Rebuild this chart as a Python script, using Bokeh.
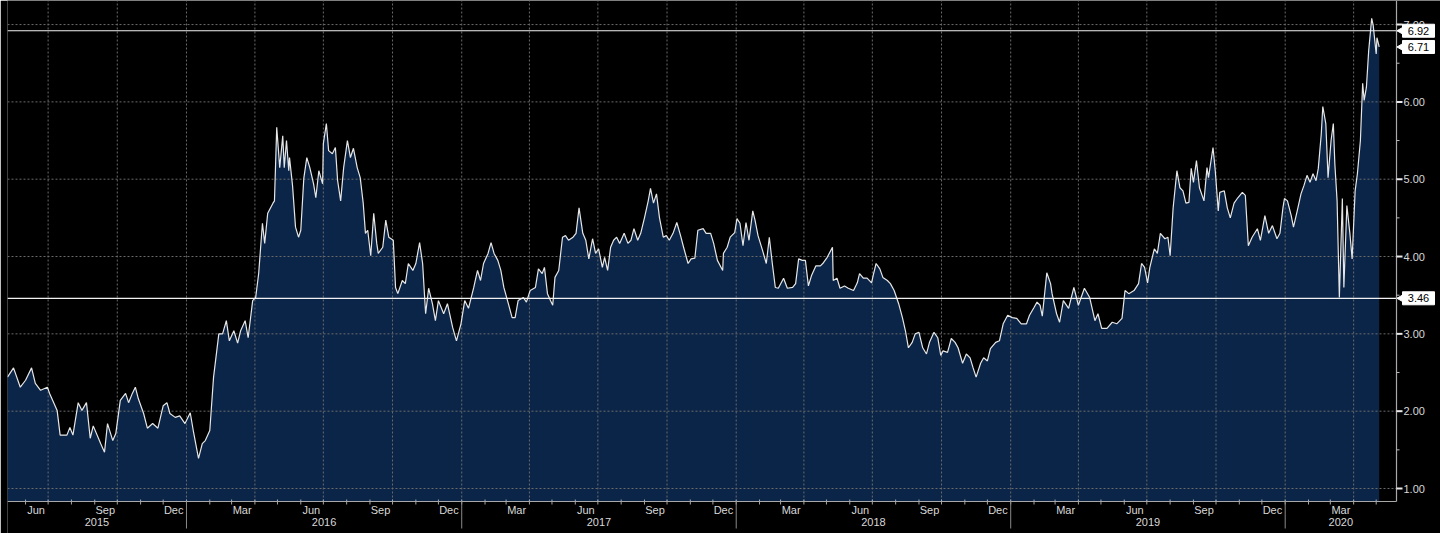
import math
import pandas as pd
from bokeh.plotting import figure
from bokeh.models import ColumnDataSource, Range1d
from bokeh.embed import file_html
from bokeh.resources import INLINE
from bokeh.core.properties import value

# ---------------- data ----------------
dates_2015 = ["2015-05-08","2015-05-16","2015-05-25","2015-06-01","2015-06-09","2015-06-14","2015-06-21","2015-06-30",
              "2015-07-03","2015-07-13","2015-07-17","2015-07-26","2015-07-30","2015-08-03","2015-08-10","2015-08-15",
              "2015-08-21","2015-08-26","2015-08-30","2015-09-09","2015-09-14","2015-09-18","2015-09-25","2015-09-29",
              "2015-10-05","2015-10-12","2015-10-16","2015-10-21","2015-10-25","2015-10-29","2015-11-05","2015-11-10",
              "2015-11-17","2015-11-24","2015-12-01","2015-12-06","2015-12-10","2015-12-17","2015-12-23","2015-12-30"]
values_2015 = [2.44,2.56,2.31,2.40,2.56,2.36,2.27,2.31,
               2.23,2.01,1.69,1.69,1.79,1.69,2.11,2.01,
               2.11,1.65,1.81,1.58,1.47,1.84,1.62,1.71,
               2.14,2.23,2.11,2.23,2.31,2.16,1.97,1.78,
               1.84,1.78,2.07,2.11,1.97,1.92,1.94,1.84]

dates_2016 = ["2016-01-06","2016-01-10","2016-01-17","2016-01-22","2016-01-26","2016-02-01","2016-02-06","2016-02-13",
              "2016-02-18","2016-02-23","2016-02-27","2016-03-04","2016-03-09","2016-03-13","2016-03-19","2016-03-23",
              "2016-03-29","2016-04-02","2016-04-06","2016-04-11","2016-04-14","2016-04-18","2016-04-25","2016-04-27",
              "2016-04-30","2016-05-04","2016-05-08","2016-05-10","2016-05-13","2016-05-16","2016-05-17","2016-05-21",
              "2016-05-25","2016-05-29","2016-06-01","2016-06-05","2016-06-09","2016-06-13","2016-06-18","2016-06-21",
              "2016-06-25","2016-06-30","2016-07-01","2016-07-05","2016-07-08","2016-07-13","2016-07-17","2016-07-20",
              "2016-07-24","2016-07-28","2016-08-02","2016-08-06","2016-08-10","2016-08-15","2016-08-19","2016-08-23",
              "2016-08-26","2016-08-29","2016-09-02","2016-09-06","2016-09-10","2016-09-12","2016-09-18","2016-09-22",
              "2016-09-26","2016-10-02","2016-10-05","2016-10-08","2016-10-14","2016-10-18","2016-10-22","2016-10-28",
              "2016-11-01","2016-11-06","2016-11-10","2016-11-14","2016-11-18","2016-11-23","2016-11-27","2016-12-01",
              "2016-12-08","2016-12-13","2016-12-20","2016-12-25","2016-12-31"]
values_2016 = [1.98,1.75,1.39,1.58,1.62,1.75,2.44,3.00,
               3.00,3.17,2.91,3.04,2.88,3.04,3.17,2.95,
               3.43,3.47,3.78,4.43,4.17,4.56,4.69,4.72,
               5.67,5.15,5.56,5.15,5.50,5.11,5.28,4.92,
               4.38,4.25,4.34,5.01,5.28,5.15,4.94,4.76,
               5.11,4.94,5.46,5.72,5.37,5.33,5.41,4.98,
               4.72,5.15,5.50,5.28,5.40,5.15,5.02,4.69,
               4.30,4.34,4.01,4.56,4.17,4.04,4.12,4.47,
               4.25,4.21,3.60,3.52,3.69,3.65,3.91,3.82,
               3.91,4.18,3.91,3.26,3.59,3.39,3.17,3.43,
               3.26,3.39,3.08,2.91,3.13]

dates_2017 = ["2017-01-05","2017-01-10","2017-01-17","2017-01-22","2017-01-26","2017-01-30","2017-02-05","2017-02-09",
              "2017-02-13","2017-02-18","2017-02-22","2017-02-26","2017-03-04","2017-03-09","2017-03-13","2017-03-17",
              "2017-03-24","2017-03-28","2017-04-02","2017-04-09","2017-04-13","2017-04-18","2017-04-21","2017-04-25",
              "2017-04-29","2017-05-02","2017-05-05","2017-05-10","2017-05-15","2017-05-19","2017-05-23","2017-05-29",
              "2017-06-02","2017-06-06","2017-06-11","2017-06-15","2017-06-19","2017-06-24","2017-06-28","2017-07-02",
              "2017-07-07","2017-07-10","2017-07-14","2017-07-18","2017-07-22","2017-07-26","2017-07-30","2017-08-05",
              "2017-08-10","2017-08-14","2017-08-18","2017-08-23","2017-08-27","2017-09-01","2017-09-06","2017-09-09",
              "2017-09-13","2017-09-17","2017-09-21","2017-09-26","2017-09-30","2017-10-04","2017-10-09","2017-10-14",
              "2017-10-19","2017-10-23","2017-10-29","2017-11-02","2017-11-07","2017-11-11","2017-11-18","2017-11-22",
              "2017-11-28","2017-12-02","2017-12-07","2017-12-14","2017-12-15","2017-12-20","2017-12-24","2017-12-30"]
values_2017 = [3.43,3.33,3.60,3.82,3.69,3.91,4.04,4.18,
               4.04,3.95,3.82,3.60,3.39,3.21,3.21,3.43,
               3.47,3.41,3.56,3.60,3.84,3.78,3.86,3.52,
               3.43,3.37,3.73,3.82,4.25,4.27,4.21,4.25,
               4.30,4.63,4.30,4.21,3.97,4.23,4.04,4.10,
               3.86,3.99,3.82,4.12,4.21,4.25,4.17,4.30,
               4.17,4.21,4.36,4.21,4.30,4.50,4.72,4.88,
               4.69,4.81,4.50,4.25,4.27,4.21,4.30,4.44,
               4.27,4.12,3.91,3.97,3.98,4.34,4.36,4.30,
               4.30,4.17,3.95,3.82,4.04,4.12,4.25,4.31]

dates_2018 = ["2018-01-02","2018-01-06","2018-01-10","2018-01-14","2018-01-18","2018-01-23","2018-01-26","2018-01-30",
              "2018-02-05","2018-02-10","2018-02-14","2018-02-18","2018-02-22","2018-02-26","2018-03-05","2018-03-10",
              "2018-03-17","2018-03-21","2018-03-25","2018-03-30","2018-04-03","2018-04-07","2018-04-11","2018-04-17",
              "2018-04-23","2018-04-27","2018-05-02","2018-05-09","2018-05-10","2018-05-15","2018-05-19","2018-05-25",
              "2018-05-30","2018-06-06","2018-06-11","2018-06-14","2018-06-19","2018-06-24","2018-06-30","2018-07-02",
              "2018-07-06","2018-07-11","2018-07-15","2018-07-21","2018-07-25","2018-07-30","2018-08-05","2018-08-10",
              "2018-08-14","2018-08-18","2018-08-23","2018-08-27","2018-09-01","2018-09-06","2018-09-11","2018-09-15",
              "2018-09-21","2018-09-26","2018-09-30","2018-10-03","2018-10-09","2018-10-14","2018-10-19","2018-10-23",
              "2018-10-29","2018-11-03","2018-11-08","2018-11-12","2018-11-16","2018-11-22","2018-11-26","2018-12-01",
              "2018-12-05","2018-12-12","2018-12-17","2018-12-22","2018-12-28"]
values_2018 = [4.49,4.43,4.14,4.44,4.21,4.59,4.47,4.27,
               4.08,3.91,4.25,3.91,3.60,3.59,3.72,3.59,
               3.60,3.65,3.97,3.95,3.95,3.62,3.75,3.88,
               3.88,3.92,3.99,4.12,3.69,3.72,3.59,3.62,
               3.59,3.56,3.66,3.78,3.72,3.72,3.66,3.75,
               3.91,3.84,3.73,3.69,3.65,3.56,3.39,3.21,
               3.04,2.82,2.89,3.00,3.02,2.82,2.74,2.89,
               3.02,2.95,2.72,2.78,2.76,2.94,2.89,2.82,
               2.62,2.74,2.69,2.56,2.44,2.62,2.69,2.65,
               2.81,2.89,2.91,3.13,3.24]

dates_2019 = ["2019-01-03","2019-01-09","2019-01-15","2019-01-22","2019-01-26","2019-02-01","2019-02-05","2019-02-09",
              "2019-02-12","2019-02-18","2019-02-23","2019-02-25","2019-03-03","2019-03-07","2019-03-12","2019-03-19",
              "2019-03-26","2019-04-01","2019-04-09","2019-04-16","2019-04-23","2019-04-27","2019-05-02","2019-05-09",
              "2019-05-16","2019-05-22","2019-05-29","2019-06-02","2019-06-07","2019-06-14","2019-06-20","2019-06-24",
              "2019-06-28","2019-07-02","2019-07-05","2019-07-11","2019-07-15","2019-07-19","2019-07-25","2019-07-29",
              "2019-08-01","2019-08-05","2019-08-10","2019-08-14","2019-08-18","2019-08-22","2019-08-26","2019-08-29",
              "2019-09-01","2019-09-05","2019-09-09","2019-09-15","2019-09-19","2019-09-21","2019-09-27","2019-09-30",
              "2019-10-04","2019-10-06","2019-10-12","2019-10-16","2019-10-20","2019-10-25","2019-10-30","2019-11-05",
              "2019-11-09","2019-11-13","2019-11-18","2019-11-25","2019-11-29","2019-12-05","2019-12-10","2019-12-15",
              "2019-12-21","2019-12-25","2019-12-29","2019-12-31"]
values_2019 = [3.21,3.20,3.13,3.13,3.24,3.34,3.41,3.37,
               3.23,3.79,3.65,3.52,3.26,3.15,3.43,3.33,
               3.60,3.37,3.59,3.47,3.17,3.26,3.07,3.07,
               3.15,3.13,3.20,3.56,3.52,3.56,3.65,3.91,
               3.86,3.66,3.86,4.10,4.04,4.30,4.23,4.25,
               4.01,4.63,5.11,4.89,4.85,4.69,4.70,5.14,
               4.96,5.24,4.89,4.72,5.15,5.02,5.41,5.11,
               4.59,4.83,4.85,4.63,4.50,4.69,4.76,4.83,
               4.79,4.14,4.25,4.36,4.21,4.53,4.30,4.40,
               4.23,4.30,4.63,4.75]

dates_2020 = ["2020-01-04","2020-01-09","2020-01-12","2020-01-17","2020-01-22","2020-01-26","2020-01-30","2020-02-03",
              "2020-02-07","2020-02-11","2020-02-14","2020-02-18","2020-02-20","2020-02-24","2020-02-27","2020-03-02",
              "2020-03-05","2020-03-07","2020-03-10","2020-03-13","2020-03-17","2020-03-19","2020-03-23","2020-03-27",
              "2020-03-30","2020-04-03","2020-04-06","2020-04-10","2020-04-13","2020-04-15","2020-04-18","2020-04-21",
              "2020-04-25","2020-04-27","2020-05-01","2020-05-02","2020-05-05"]
values_2020 = [4.72,4.53,4.38,4.59,4.81,4.92,5.05,4.96,
               5.07,4.98,5.14,5.59,5.94,5.72,5.02,5.50,
               5.72,5.20,4.72,3.47,4.75,3.60,4.66,4.30,
               3.97,4.85,5.07,5.50,6.24,6.02,6.19,6.66,
               7.08,6.99,6.62,6.83,6.71]

ref_high = 6.92
ref_low = 3.46

y_ticks = [1.0, 2.0, 3.0, 4.0, 5.0, 6.0, 7.0]
y_minor = [1.5, 2.5, 3.5, 4.5, 5.5, 6.5]

x_start = pd.Timestamp("2015-05-08")
x_axis_end = pd.Timestamp("2020-05-28")
y_floor, y_top = 0.832, 7.311

# ---------------- layout ----------------
W, H = 1440, 533
LEFT = 7
AXIS_PX = 1396          # canvas x of the value axis
BOTTOM_B = 32


def ms(t):
    return pd.Timestamp(t).value / 1e6


frame_w = W - LEFT
ms_per_px = (ms(x_axis_end) - ms(x_start)) / (AXIS_PX - LEFT)
x_range_end = ms(x_start) + frame_w * ms_per_px
upp = (y_top - y_floor) / (H - BOTTOM_B)      # value units per pixel
y_start = y_floor - BOTTOM_B * upp
AX = ms(x_axis_end)


def px(n):
    return n * ms_per_px


FILL = "#0b2548"
LINE = "#e6e6e6"
GRID = "#6a6a6a"
AXIS = "#a8a8a8"
TXT = "#d8d8d8"
FONT = value("Liberation Sans")

all_dates = dates_2015 + dates_2016 + dates_2017 + dates_2018 + dates_2019 + dates_2020
all_vals = values_2015 + values_2016 + values_2017 + values_2018 + values_2019 + values_2020
src = ColumnDataSource(dict(date=pd.to_datetime(all_dates), val=all_vals))

p = figure(width=W, height=H, x_axis_type="datetime", x_axis_location=None, y_axis_location=None,
           x_range=Range1d(ms(x_start), x_range_end), y_range=Range1d(y_start, y_top),
           output_backend="svg", toolbar_location=None,
           min_border_left=LEFT, min_border_right=0, min_border_top=0, min_border_bottom=0,
           background_fill_color="black", border_fill_color="black", outline_line_color=None)
p.grid.visible = False

# area
p.varea(x="date", y1=y_floor, y2="val", source=src, fill_color=FILL)

# grid (drawn above the fill)
grid_dates = pd.date_range("2015-07-01", "2020-04-01", freq="QS")
p.segment(x0=[ms(d) for d in grid_dates], x1=[ms(d) for d in grid_dates], y0=y_floor, y1=y_top,
          line_color=GRID, line_width=1, line_dash="2 2")
p.segment(x0=ms(x_start), x1=AX, y0=y_ticks, y1=y_ticks,
          line_color=GRID, line_width=1, line_dash="2 2")

# data line
p.line(x="date", y="val", source=src, line_color=LINE, line_width=1.2)

# reference lines
p.segment(x0=ms(x_start), x1=AX + px(3), y0=[ref_high, ref_low], y1=[ref_high, ref_low],
          line_color="#f2f2f2", line_width=1.2)

# bottom axis
p.segment(x0=ms(x_start), x1=AX, y0=y_floor, y1=y_floor, line_color=AXIS, line_width=1.2)
month_starts = pd.date_range("2015-06-01", "2020-05-01", freq="MS")
p.segment(x0=[ms(d) for d in month_starts], x1=[ms(d) for d in month_starts],
          y0=y_floor + 2 * upp, y1=y_floor - 3 * upp, line_color=AXIS, line_width=1)
year_starts = pd.date_range("2016-01-01", "2020-01-01", freq="YS")
p.segment(x0=[ms(d) for d in year_starts], x1=[ms(d) for d in year_starts],
          y0=y_floor, y1=y_floor - 27 * upp, line_color="#8a8a8a", line_width=1)

q_months = pd.date_range("2015-06-01", "2020-03-01", freq="3MS")
p.text(x=[ms(d) + 14 * 86400000 for d in q_months], y=y_floor - 8.5 * upp,
       text=[d.strftime("%b") for d in q_months],
       text_align="center", text_baseline="middle", text_color=TXT,
       text_font=FONT, text_font_size="11px")

yr_x, yr_t = [], []
for yr in range(2015, 2021):
    a = max(x_start, pd.Timestamp(f"{yr}-01-01"))
    b = min(x_axis_end, pd.Timestamp(f"{yr + 1}-01-01"))
    yr_x.append((ms(a) + ms(b)) / 2)
    yr_t.append(str(yr))
p.text(x=yr_x, y=y_floor - 20.5 * upp, text=yr_t, text_align="center", text_baseline="middle",
       text_color=TXT, text_font=FONT, text_font_size="11px")

# right value axis
p.segment(x0=AX, x1=AX, y0=y_floor, y1=y_top, line_color=AXIS, line_width=1.2)
p.segment(x0=AX, x1=AX + px(6), y0=y_ticks, y1=y_ticks, line_color="#e8e8e8", line_width=2)
p.segment(x0=AX, x1=AX + px(3), y0=y_minor, y1=y_minor, line_color="#bbbbbb", line_width=1)
p.text(x=AX + px(7), y=y_ticks, text=[f"{t:.2f}" for t in y_ticks],
       text_align="left", text_baseline="middle", text_color=TXT,
       text_font=FONT, text_font_size="11px")

# value boxes
box_vals = [ref_high, all_vals[-1], ref_low]
p.rect(x=AX + px(22), y=box_vals, width=32, height=13, width_units="screen", height_units="screen",
       fill_color="white", line_color="white")
p.scatter(x=AX + px(4.5), y=box_vals, marker="triangle", size=7, angle=math.pi / 2,
          fill_color="white", line_color="white")
p.text(x=AX + px(22), y=box_vals, text=[f"{v:.2f}" for v in box_vals],
       text_align="center", text_baseline="middle", text_color="black",
       text_font=FONT, text_font_size="11px")

open("out.html", "w").write(file_html(p, INLINE))
